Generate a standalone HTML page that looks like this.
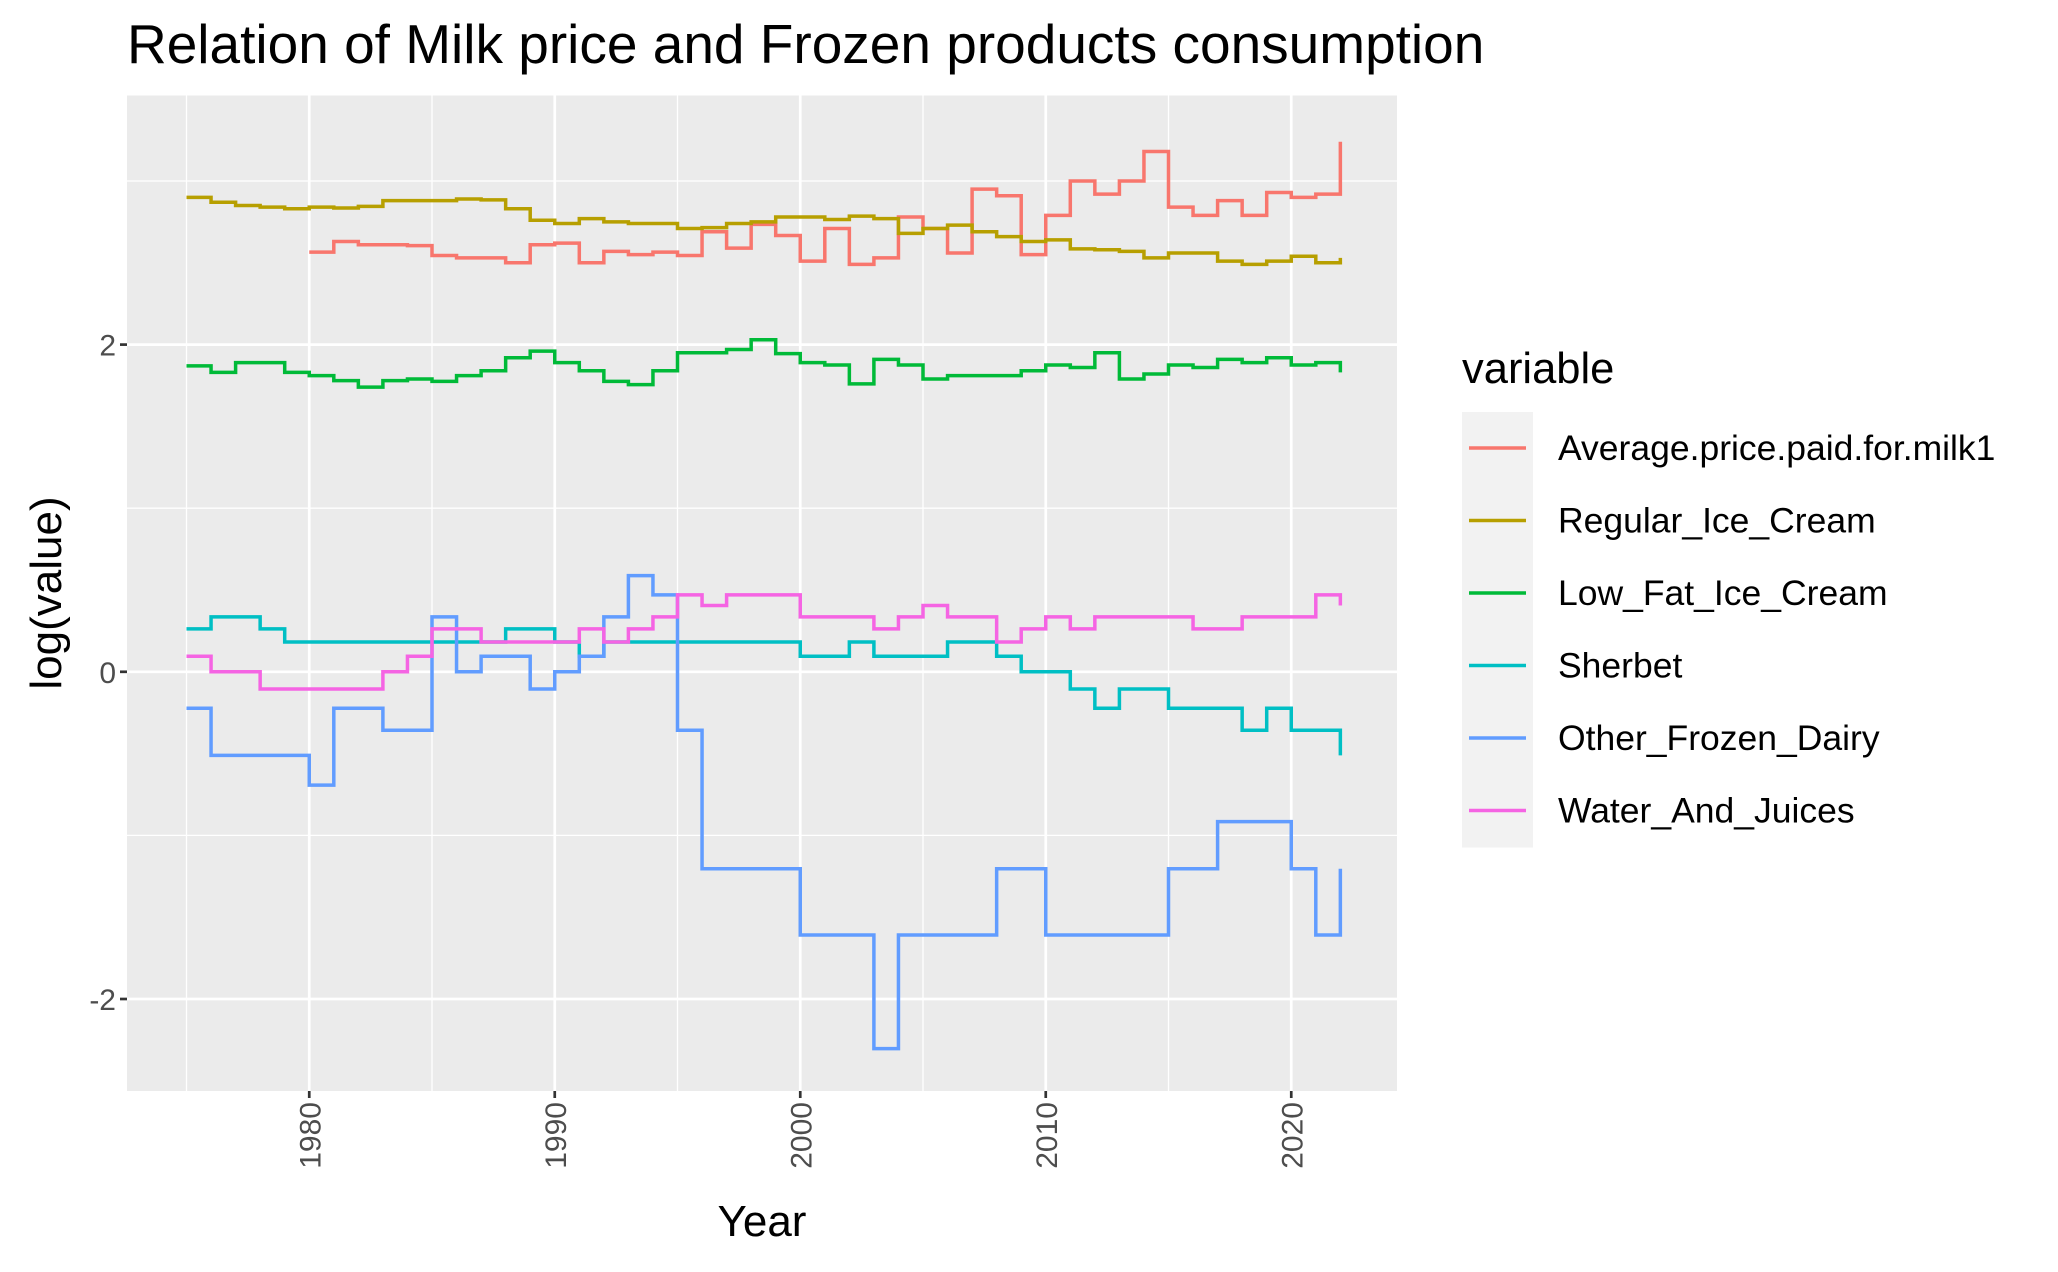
<!DOCTYPE html>
<html><head><meta charset="utf-8"><style>
html,body{margin:0;padding:0;background:#fff;}
svg{display:block;font-family:"Liberation Sans",Arial,sans-serif;}
</style></head><body>
<svg id="chart" width="2058" height="1272" viewBox="0 0 2058 1272" xmlns="http://www.w3.org/2000/svg">
<rect width="2058" height="1272" fill="#fff"/>
<text x="127" y="63" font-size="55" fill="#000">Relation of Milk price and Frozen products consumption</text>
<rect x="127" y="95.5" width="1270" height="995.5" fill="#EBEBEB"/>
<g id="grid"></g>
<g id="series"></g>
<g id="axes"></g>
<text x="762" y="1236" font-size="44" text-anchor="middle" fill="#000">Year</text>
<text transform="translate(61,593) rotate(-90)" font-size="44" text-anchor="middle" fill="#000">log(value)</text>
<g id="legend"></g>
</svg>
<script>
const years = [];
for (let y = 1975; y <= 2022; y++) years.push(y);
const seriesNames = ["Average.price.paid.for.milk1","Regular_Ice_Cream","Low_Fat_Ice_Cream","Sherbet","Other_Frozen_Dairy","Water_And_Juices"];
const seriesColors = ["#F8766D","#B79F00","#00BA38","#00BFC4","#619CFF","#F564E3"];
const milk = [null,null,null,null,null,
 2.565,2.63,2.61,2.61,2.605,2.545,2.53,2.53,2.50,2.61,
 2.62,2.50,2.57,2.55,2.565,2.545,2.69,2.59,2.735,2.667,
 2.51,2.71,2.49,2.53,2.78,2.71,2.56,2.95,2.91,2.55,
 2.79,3.00,2.92,3.00,3.18,2.84,2.79,2.88,2.79,2.93,
 2.90,2.92,3.24];
const regular = [2.90,2.87,2.85,2.84,2.83,2.84,2.835,2.845,2.88,2.88,
 2.88,2.89,2.885,2.83,2.76,2.74,2.77,2.75,2.74,2.74,
 2.71,2.715,2.74,2.75,2.78,2.78,2.765,2.785,2.77,2.68,
 2.71,2.73,2.69,2.66,2.63,2.64,2.585,2.58,2.57,2.53,
 2.56,2.56,2.51,2.49,2.51,2.54,2.50,2.53];
const lowFat = [1.87,1.83,1.89,1.89,1.83,1.81,1.78,1.74,1.78,1.79,
 1.775,1.81,1.84,1.92,1.96,1.89,1.84,1.775,1.755,1.84,
 1.95,1.95,1.97,2.03,1.945,1.89,1.875,1.76,1.91,1.875,
 1.79,1.81,1.81,1.81,1.84,1.875,1.86,1.95,1.79,1.82,
 1.875,1.86,1.91,1.89,1.92,1.875,1.89,1.83];
const sherbet = [0.262,0.336,0.336,0.262,0.182,0.182,0.182,0.182,0.182,0.182,
 0.182,0.182,0.182,0.262,0.262,0.182,0.095,0.182,0.182,0.182,
 0.182,0.182,0.182,0.182,0.182,0.095,0.095,0.182,0.095,0.095,
 0.095,0.182,0.182,0.095,0,0,-0.105,-0.223,-0.105,-0.105,
 -0.223,-0.223,-0.223,-0.357,-0.223,-0.357,-0.357,-0.511];
const otherDairy = [-0.223,-0.511,-0.511,-0.511,-0.511,-0.693,-0.223,-0.223,-0.357,-0.357,
 0.336,0,0.095,0.095,-0.105,0,0.095,0.336,0.588,0.47,
 -0.357,-1.204,-1.204,-1.204,-1.204,-1.609,-1.609,-1.609,-2.303,-1.609,
 -1.609,-1.609,-1.609,-1.204,-1.204,-1.609,-1.609,-1.609,-1.609,-1.609,
 -1.204,-1.204,-0.916,-0.916,-0.916,-1.204,-1.609,-1.204];
const water = [0.095,0,0,-0.105,-0.105,-0.105,-0.105,-0.105,0,0.095,
 0.262,0.262,0.182,0.182,0.182,0.182,0.262,0.182,0.262,0.336,
 0.47,0.405,0.47,0.47,0.47,0.336,0.336,0.336,0.262,0.336,
 0.405,0.336,0.336,0.182,0.262,0.336,0.262,0.336,0.336,0.336,
 0.336,0.262,0.262,0.336,0.336,0.336,0.47,0.405];
const yTicks = [-2,0,2];
const yTickLabels = ["-2","0","2"];
const yMinor = [-1,1,3];
const xTicks = [1980,1990,2000,2010,2020];
const xMinor = [1975,1985,1995,2005,2015];

const NS = "http://www.w3.org/2000/svg";
const X = yr => 186.5 + (yr - 1975) * 24.55;
const Y = v => 671.8 - v * 163.6;
const P = {l:127, r:1397, t:95.5, b:1091};
function mk(tag, attrs, parent){const e=document.createElementNS(NS,tag);for(const k in attrs)e.setAttribute(k,attrs[k]);parent.appendChild(e);return e;}
const grid=document.getElementById('grid'), axes=document.getElementById('axes'), ser=document.getElementById('series'), leg=document.getElementById('legend');
yMinor.forEach(v=>{const l=mk('line',{x1:P.l,x2:P.r,y1:Y(v),y2:Y(v),stroke:'#fff','stroke-width':1.3},grid);
 
 });
xMinor.forEach(v=>{const l=mk('line',{x1:X(v),x2:X(v),y1:P.t,y2:P.b,stroke:'#fff','stroke-width':1.3},grid);
 
 });
yTicks.forEach((v,i)=>{const l=mk('line',{x1:P.l,x2:P.r,y1:Y(v),y2:Y(v),stroke:'#fff','stroke-width':2.7},grid);
 
 
 const t=mk('line',{x1:P.l-7,x2:P.l,y1:Y(v),y2:Y(v),stroke:'#333','stroke-width':2.7},axes);
 
 
 const tx=mk('text',{x:P.l-11,y:Y(v)+11,'font-size':30,'text-anchor':'end',fill:'#4D4D4D'},axes);
 tx.textContent=yTickLabels[i];
 
 });
xTicks.forEach(v=>{const l=mk('line',{x1:X(v),x2:X(v),y1:P.t,y2:P.b,stroke:'#fff','stroke-width':2.7},grid);
 
 
 const t=mk('line',{x1:X(v),x2:X(v),y1:P.b,y2:P.b+7,stroke:'#333','stroke-width':2.7},axes);
 
 
 const tx=mk('text',{transform:`translate(${X(v)+11},${P.b+11}) rotate(-90)`,'font-size':30,'text-anchor':'end',fill:'#4D4D4D'},axes);
 tx.textContent=String(v);
 
 });
const allSeries=[milk,regular,lowFat,sherbet,otherDairy,water];
allSeries.forEach((vals,si)=>{
 let d='', prev=null;
 vals.forEach((v,i)=>{ if(v===null) return;
  const x=X(years[i]), y=Y(v);
  if(prev===null) d+=`M${x},${y}`; else d+=`H${x}V${y}`;
  prev=v;});
 const p=mk('path',{d:d,fill:'none',stroke:seriesColors[si],'stroke-width':3.5,'stroke-linejoin':'miter'},ser);
 
 
});
const lt=mk('text',{x:1462,y:383,'font-size':43.5,fill:'#000'},leg);
lt.textContent='variable';


seriesNames.forEach((n,i)=>{
 const cy=448+i*72.5;
 const r=mk('rect',{x:1462,y:cy-36,width:71,height:73,fill:'#F2F2F2'},leg);
 
 
 const l=mk('line',{x1:1469,x2:1526,y1:cy,y2:cy,stroke:seriesColors[i],'stroke-width':3.5},leg);
 
 
 const t=mk('text',{x:1558,y:cy+12,'font-size':35.5,fill:'#000'},leg);
 t.textContent=n;
 
 
});
</script>
</body></html>
